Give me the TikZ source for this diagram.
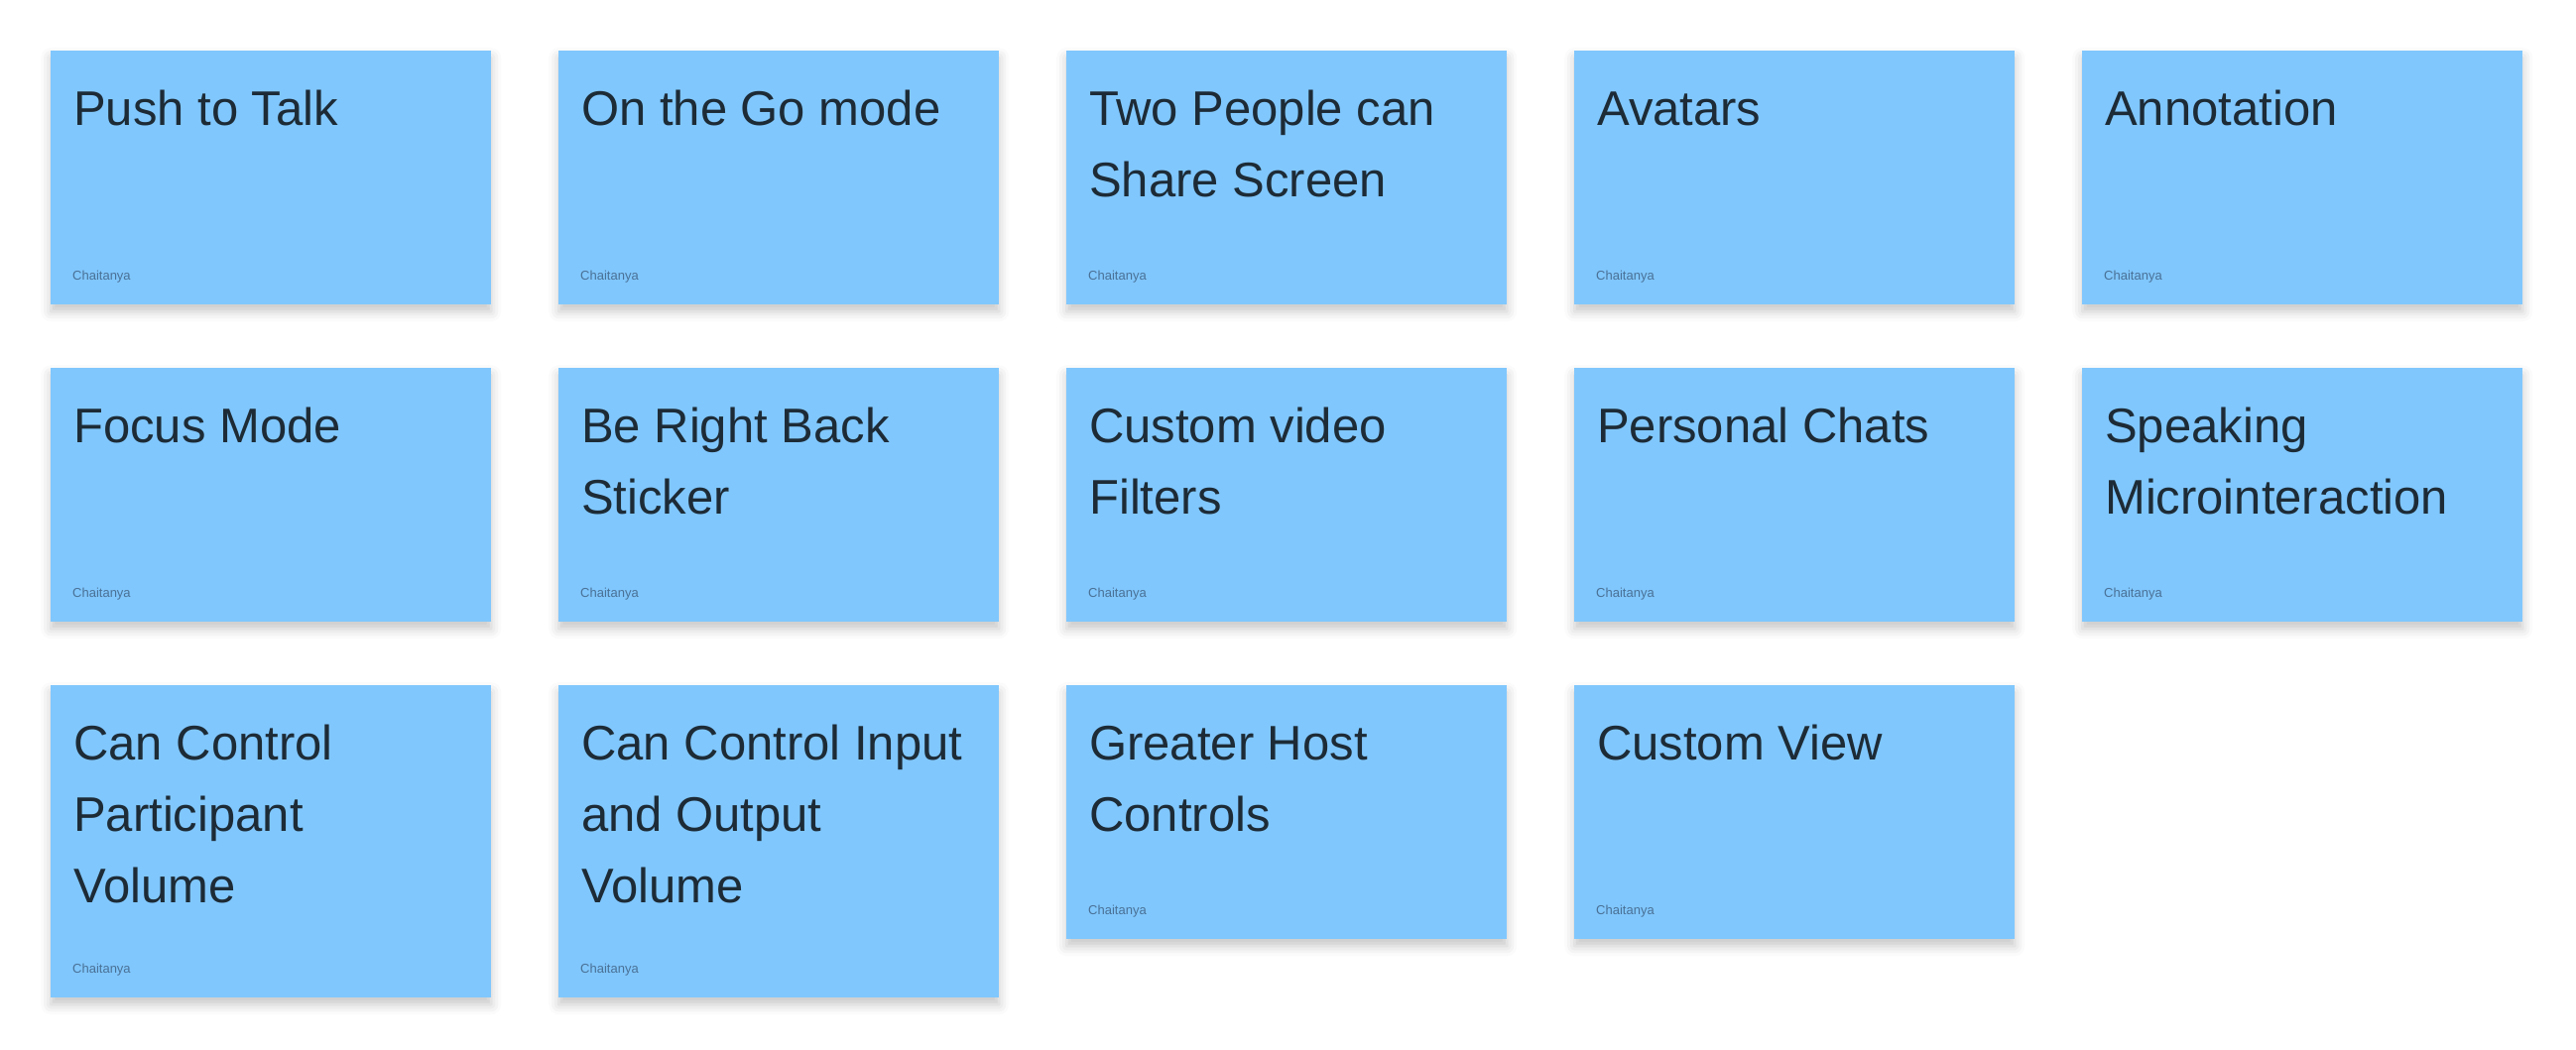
\documentclass[tikz,border=0pt]{standalone}
\usepackage{fontspec}
\setmainfont{Liberation Sans}
\usepackage{tikz}
\usetikzlibrary{shadows.blur}
\definecolor{notefill}{HTML}{80C7FD}
\definecolor{notetext}{HTML}{1D2B36}
\definecolor{authtext}{HTML}{4A7196}
\newcommand{\topln}{\rule{0pt}{40pt}}
\tikzset{note/.style={fill=notefill, inner sep=0pt, anchor=north west,
    minimum width=444pt, minimum height=256pt,
    blur shadow={shadow xshift=0pt, shadow yshift=-7pt, shadow blur radius=10pt, shadow opacity=22}}}
\tikzset{tall/.style={note, minimum height=315pt}}
% title: first baseline 75pt below the top edge (\topln is 40pt high)
\tikzset{ttl/.style={anchor=north west, inner sep=0pt, align=left, xshift=23pt, yshift=-35pt,
    text=notetext, font=\fontsize{49}{72}\selectfont}}
\tikzset{by/.style={anchor=base west, inner sep=0pt, xshift=22pt, yshift=25pt,
    text=authtext, font=\fontsize{13}{13}\selectfont}}

\begin{document}
\begin{tikzpicture}[x=1pt, y=-1pt]
  \useasboundingbox (0,0) rectangle (2597,1059);
  % first row
  \node[note] (push) at (51,51) {};
  \node[ttl] (push-t) at (push.north west) {\topln Push to Talk};
  \node[by] (push-a) at (push.south west) {Chaitanya};
  \node[note] (onthego) at (563,51) {};
  \node[ttl] (onthego-t) at (onthego.north west) {\topln On the Go mode};
  \node[by] (onthego-a) at (onthego.south west) {Chaitanya};
  \node[note] (share) at (1075,51) {};
  \node[ttl] (share-t) at (share.north west) {\topln Two People can\\Share Screen};
  \node[by] (share-a) at (share.south west) {Chaitanya};
  \node[note] (avatars) at (1587,51) {};
  \node[ttl] (avatars-t) at (avatars.north west) {\topln Avatars};
  \node[by] (avatars-a) at (avatars.south west) {Chaitanya};
  \node[note] (annot) at (2099,51) {};
  \node[ttl] (annot-t) at (annot.north west) {\topln Annotation};
  \node[by] (annot-a) at (annot.south west) {Chaitanya};
  % second row
  \node[note] (focus) at (51,371) {};
  \node[ttl] (focus-t) at (focus.north west) {\topln Focus Mode};
  \node[by] (focus-a) at (focus.south west) {Chaitanya};
  \node[note] (brb) at (563,371) {};
  \node[ttl] (brb-t) at (brb.north west) {\topln Be Right Back\\Sticker};
  \node[by] (brb-a) at (brb.south west) {Chaitanya};
  \node[note] (filters) at (1075,371) {};
  \node[ttl] (filters-t) at (filters.north west) {\topln Custom video\\Filters};
  \node[by] (filters-a) at (filters.south west) {Chaitanya};
  \node[note] (chats) at (1587,371) {};
  \node[ttl] (chats-t) at (chats.north west) {\topln Personal Chats};
  \node[by] (chats-a) at (chats.south west) {Chaitanya};
  \node[note] (speak) at (2099,371) {};
  \node[ttl] (speak-t) at (speak.north west) {\topln Speaking\\Microinteraction};
  \node[by] (speak-a) at (speak.south west) {Chaitanya};
  % third row
  \node[tall] (partvol) at (51,691) {};
  \node[ttl] (partvol-t) at (partvol.north west) {\topln Can Control\\Participant\\Volume};
  \node[by] (partvol-a) at (partvol.south west) {Chaitanya};
  \node[tall] (iovol) at (563,691) {};
  \node[ttl] (iovol-t) at (iovol.north west) {\topln Can Control Input\\and Output\\Volume};
  \node[by] (iovol-a) at (iovol.south west) {Chaitanya};
  \node[note] (host) at (1075,691) {};
  \node[ttl] (host-t) at (host.north west) {\topln Greater Host\\Controls};
  \node[by] (host-a) at (host.south west) {Chaitanya};
  \node[note] (view) at (1587,691) {};
  \node[ttl] (view-t) at (view.north west) {\topln Custom View};
  \node[by] (view-a) at (view.south west) {Chaitanya};
\end{tikzpicture}
\end{document}
